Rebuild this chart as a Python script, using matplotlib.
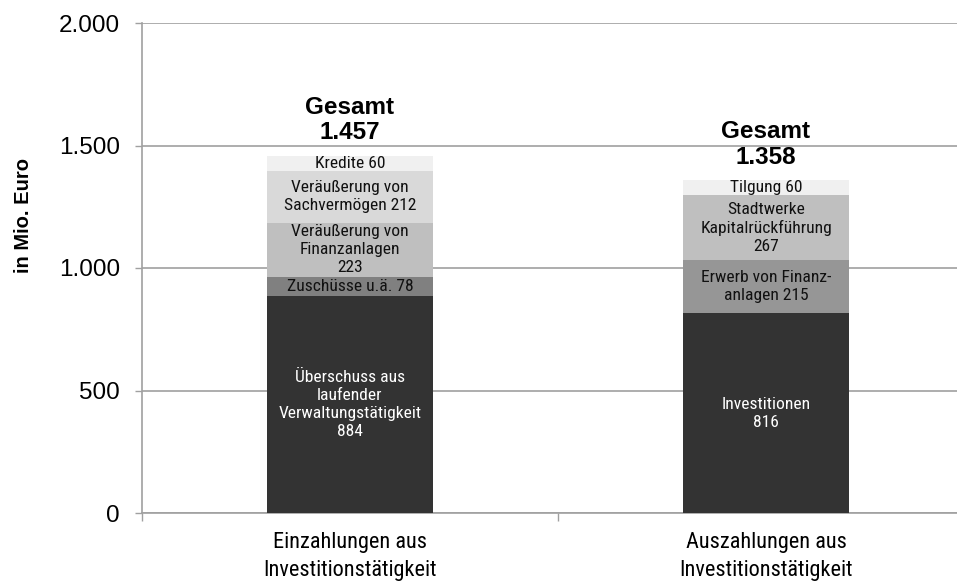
import matplotlib
matplotlib.use("Agg")
import matplotlib.pyplot as plt
from matplotlib.ticker import FuncFormatter, FixedLocator

# data (Mio. Euro)
categories = ["Einzahlungen aus\nInvestitionstätigkeit", "Auszahlungen aus\nInvestitionstätigkeit"]

ein_labels = ["Überschuss aus\nlaufender\nVerwaltungstätigkeit\n{}",
              "Zuschüsse u.ä. {}",
              "Veräußerung von\nFinanzanlagen\n{}",
              "Veräußerung von\nSachvermögen {}",
              "Kredite {}"]
ein_values = [884, 78, 223, 212, 60]

aus_labels = ["Investitionen\n{}",
              "Erwerb von Finanz-\nanlagen {}",
              "Stadtwerke\nKapitalrückführung\n{}",
              "Tilgung {}"]
aus_values = [816, 215, 267, 60]

yticks = [0, 500, 1000, 1500, 2000]

ein_colors = ["#333333", "#808080", "#bfbfbf", "#d9d9d9", "#f0f0f0"]
aus_colors = ["#333333", "#969696", "#bfbfbf", "#f0f0f0"]

narrow = ["Roboto Condensed", "Liberation Sans Narrow", "Liberation Sans", "DejaVu Sans"]
arial = ["Liberation Sans", "DejaVu Sans"]

fig = plt.figure(figsize=(9.57, 5.84), dpi=100)
ax = fig.add_axes([142 / 957, 1 - 513 / 584, 832 / 957, (513 - 23) / 584])

grid_c = "#a0a0a0"
bar_w = 0.4

stacks = [(ein_labels, ein_values, ein_colors), (aus_labels, aus_values, aus_colors)]
for i, (labels, values, colors) in enumerate(stacks):
    bottom = 0
    for lab, val, col in zip(labels, values, colors):
        ax.bar(i, val, bottom=bottom, width=bar_w, color=col, edgecolor="none", zorder=3)
        tc = "white" if col == "#333333" else "#111111"
        ax.text(i, bottom + val / 2, lab.format(val), ha="center", va="center",
                multialignment="center", fontsize=12.6, family=narrow, color=tc,
                linespacing=1.25, zorder=4)
        bottom += val
    total_txt = f"{bottom:,}".replace(",", ".")
    ax.annotate("Gesamt\n" + total_txt, xy=(i, bottom), xytext=(0, 12),
                textcoords="offset points", ha="center", va="baseline",
                multialignment="center", fontsize=17.5, fontweight="bold",
                family=arial, linespacing=1.15, zorder=4)

ax.set_xlim(-0.5, 1.5)
ax.set_ylim(0, 2000)

ax.yaxis.set_major_locator(FixedLocator(yticks))
ax.yaxis.set_major_formatter(FuncFormatter(lambda v, p: f"{int(v):,}".replace(",", ".")))
ax.grid(axis="y", color=grid_c, linewidth=1.2, zorder=0)
ax.tick_params(axis="y", length=5, width=1, color=grid_c, labelsize=17.5, pad=11)
for t in ax.get_yticklabels():
    t.set_family(arial)

ax.set_xticks([0, 1])
ax.set_xticklabels(categories, fontsize=16, family=narrow, linespacing=1.38)
ax.tick_params(axis="x", which="major", length=0, pad=14)
ax.set_xticks([-0.5, 0.5, 1.5], minor=True)
ax.tick_params(axis="x", which="minor", length=6, width=1, color=grid_c)

for s in ["top", "right"]:
    ax.spines[s].set_visible(False)
ax.spines["left"].set_color(grid_c)
ax.spines["bottom"].set_color(grid_c)
ax.spines["left"].set_linewidth(1.2)
ax.spines["bottom"].set_linewidth(1.2)

fig.text(24 / 957, 1 - 216 / 584, "in Mio. Euro", rotation=90, ha="center", va="center",
         fontsize=14.5, fontweight="bold", family=arial)

fig.savefig("out.png", dpi=100)
